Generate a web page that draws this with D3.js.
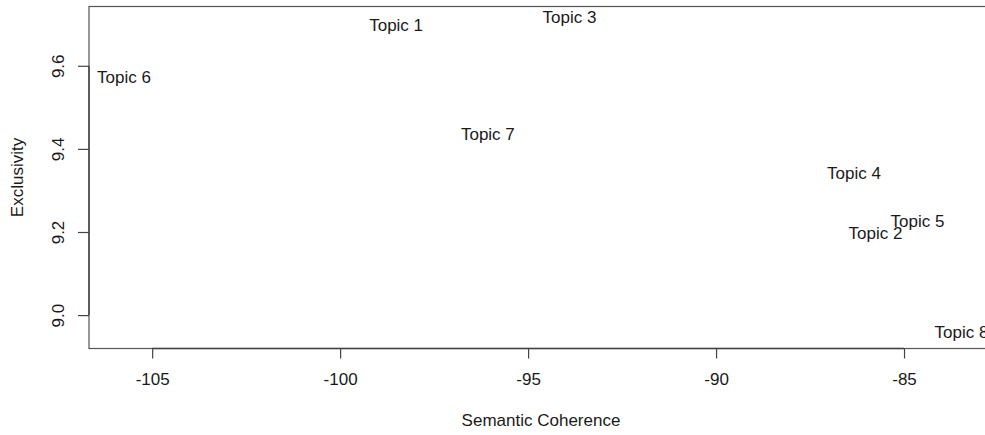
<!DOCTYPE html>
<html>
<head>
<meta charset="utf-8">
<script src="https://cdn.jsdelivr.net/npm/d3@7"></script>
<style>
  html,body{margin:0;padding:0;background:#fff;overflow:hidden;}
  svg{display:block;font-family:"Liberation Sans",Arial,sans-serif;}
</style>
</head>
<body>
<div id="chart"></div>
<script>
// topic labels and their (semantic coherence, exclusivity) positions
const topics = ["Topic 1","Topic 2","Topic 3","Topic 4","Topic 5","Topic 6","Topic 7","Topic 8"];
const coherence = [-98.51,-85.76,-93.90,-86.33,-84.64,-105.75,-96.07,-83.47];
const exclusivity = [9.697,9.196,9.716,9.341,9.226,9.572,9.434,8.958];
const xTicks = [-105,-100,-95,-90,-85];
const yTicks = [9.0,9.2,9.4,9.6];
const xDomain = [-106.68,-82.58];
const yDomain = [8.9196,9.7427];

const W=985, H=435;
const MG={t:6.5,l:89,b:86.5};
const plotRight=995; // R's plot box runs past the window edge
const FS=17;

const svg=d3.select("#chart").append("svg").attr("width",W).attr("height",H);

const xSc=d3.scaleLinear().domain(xDomain).range([MG.l,plotRight]);
const ySc=d3.scaleLinear().domain(yDomain).range([H-MG.b,MG.t]);

const ink="#1a1a1a", line="#444";

// box
svg.append("rect").attr("x",MG.l).attr("y",MG.t)
  .attr("width",plotRight-MG.l).attr("height",H-MG.b-MG.t)
  .attr("fill","none").attr("stroke","#555").attr("stroke-width",1.2);

// x axis
const xa=svg.append("g").attr("transform",`translate(0,${H-MG.b})`)
  .call(d3.axisBottom(xSc).tickValues(xTicks).tickSize(10).tickPadding(14).tickFormat(d=>d));
xa.select(".domain").attr("d",`M${xSc(xTicks[0])},0H${xSc(xTicks[xTicks.length-1])}`)
  .attr("stroke",line).attr("stroke-width",1.4);
xa.selectAll(".tick line").attr("stroke",line).attr("stroke-width",1.2);
xa.selectAll(".tick text").attr("font-size",FS).attr("fill",ink)
  .attr("font-family","'Liberation Sans',Arial,sans-serif");

// y axis
const ya=svg.append("g").attr("transform",`translate(${MG.l},0)`)
  .call(d3.axisLeft(ySc).tickValues(yTicks).tickSize(11).tickFormat(d3.format(".1f")));
ya.select(".domain").attr("d",`M0,${ySc(yTicks[0])}V${ySc(yTicks[yTicks.length-1])}`)
  .attr("stroke",line).attr("stroke-width",1.4);
ya.selectAll(".tick line").attr("stroke",line).attr("stroke-width",1.2);
ya.selectAll(".tick text").attr("font-size",FS).attr("fill",ink)
  .attr("font-family","'Liberation Sans',Arial,sans-serif")
  .attr("x",0).attr("dy",0).attr("text-anchor","middle")
  .attr("transform","translate(-31,0) rotate(-90)")
  .attr("dominant-baseline","central");

// axis titles
svg.append("text").attr("x",541).attr("y",420).attr("text-anchor","middle")
  .attr("dominant-baseline","central").attr("font-size",FS).attr("fill",ink)
  .text("Semantic Coherence");
svg.append("text").attr("transform",`translate(17,${(ySc.range()[0]+ySc.range()[1])/2}) rotate(-90)`)
  .attr("text-anchor","middle").attr("dominant-baseline","central")
  .attr("font-size",FS).attr("fill",ink).text("Exclusivity");

// labels centred on each point, as text() does in R
svg.selectAll(".lab").data(topics).join("text").attr("class","lab")
  .attr("x",(d,i)=>xSc(coherence[i])).attr("y",(d,i)=>ySc(exclusivity[i]))
  .attr("text-anchor","middle").attr("dominant-baseline","central")
  .attr("font-size",FS).attr("fill",ink).text(d=>d);
</script>
</body>
</html>
